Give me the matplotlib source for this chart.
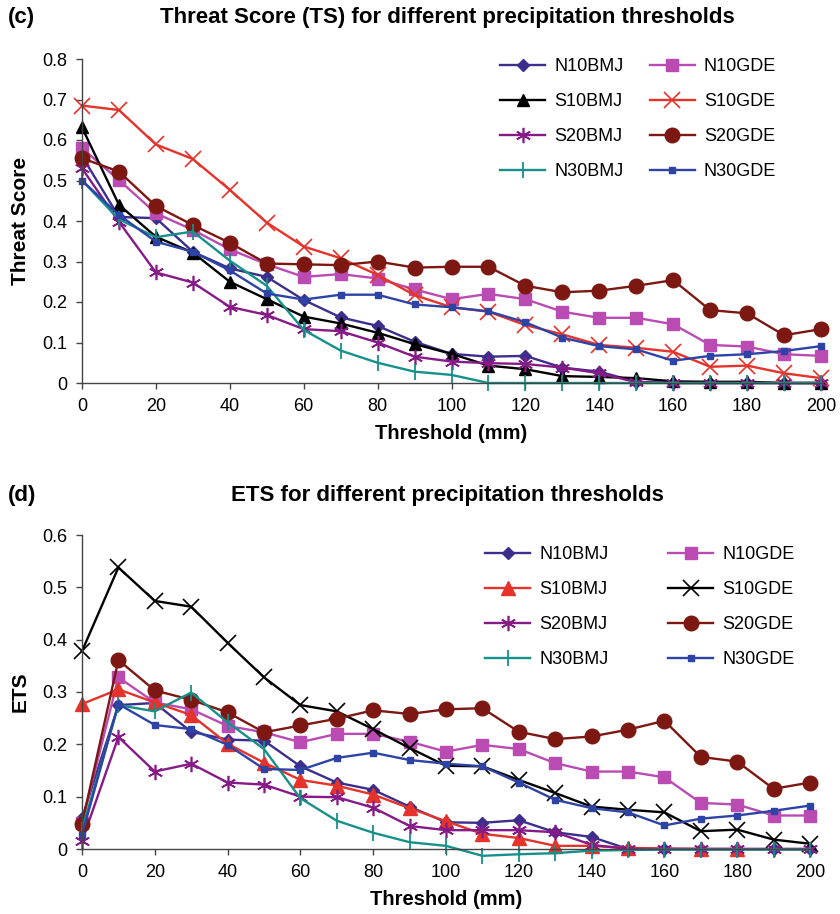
import matplotlib
matplotlib.use('Agg')
import matplotlib.pyplot as plt
import numpy as np

NARROW = ['Liberation Sans Narrow', 'Liberation Sans', 'DejaVu Sans']
plt.rcParams['font.family'] = NARROW

thresholds = [0, 10, 20, 30, 40, 50, 60, 70, 80, 90, 100,
              110, 120, 130, 140, 150, 160, 170, 180, 190, 200]

# (c) threat score
ts_N10BMJ = [0.56, 0.41, 0.407, 0.324, 0.283, 0.262, 0.205, 0.162, 0.141, 0.102, 0.072,
             0.065, 0.067, 0.038, 0.028, 0.003, 0.0, 0.0, 0.0, 0.0, 0.0]
ts_N10GDE = [0.58, 0.501, 0.419, 0.378, 0.33, 0.293, 0.262, 0.269, 0.258, 0.231, 0.207,
             0.22, 0.207, 0.176, 0.161, 0.161, 0.145, 0.094, 0.09, 0.071, 0.067]
ts_S10BMJ = [0.631, 0.44, 0.361, 0.322, 0.25, 0.207, 0.164, 0.147, 0.124, 0.096, 0.072,
             0.043, 0.034, 0.017, 0.015, 0.012, 0.004, 0.003, 0.003, 0.0, 0.0]
ts_S10GDE = [0.685, 0.674, 0.589, 0.553, 0.477, 0.396, 0.337, 0.308, 0.267, 0.217, 0.187,
             0.176, 0.143, 0.12, 0.094, 0.087, 0.077, 0.04, 0.043, 0.024, 0.012]
ts_S20BMJ = [0.53, 0.398, 0.273, 0.248, 0.188, 0.168, 0.133, 0.128, 0.10, 0.065, 0.053,
             0.049, 0.047, 0.038, 0.024, 0.002, 0.0, 0.0, 0.0, 0.0, 0.0]
ts_S20GDE = [0.555, 0.522, 0.437, 0.39, 0.346, 0.295, 0.293, 0.291, 0.30, 0.285, 0.287,
             0.287, 0.24, 0.224, 0.228, 0.24, 0.254, 0.18, 0.172, 0.118, 0.133]
ts_N30BMJ = [0.5, 0.404, 0.36, 0.374, 0.302, 0.24, 0.131, 0.08, 0.05, 0.028, 0.02,
             0.0, 0.0, 0.0, 0.0, 0.0, 0.0, 0.0, 0.0, 0.0, 0.0]
ts_N30GDE = [0.5, 0.415, 0.349, 0.324, 0.278, 0.221, 0.206, 0.218, 0.218, 0.194, 0.187,
             0.177, 0.15, 0.112, 0.091, 0.083, 0.055, 0.067, 0.071, 0.079, 0.091]

# (d) equitable threat score
ets_N10BMJ = [0.059, 0.275, 0.279, 0.224, 0.209, 0.207, 0.158, 0.127, 0.113, 0.081, 0.051,
              0.05, 0.055, 0.032, 0.023, 0.0, 0.0, 0.0, 0.0, 0.0, 0.0]
ets_N10GDE = [0.05, 0.328, 0.28, 0.267, 0.235, 0.223, 0.204, 0.22, 0.22, 0.205, 0.186,
              0.199, 0.191, 0.164, 0.148, 0.148, 0.137, 0.088, 0.085, 0.064, 0.064]
# S10BMJ has no value at 160 and stops at 180
ets_S10BMJ_x = [0, 10, 20, 30, 40, 50, 60, 70, 80, 90, 100, 110, 120, 130, 140, 150, 170, 180]
ets_S10BMJ = [0.277, 0.305, 0.28, 0.256, 0.201, 0.165, 0.132, 0.121, 0.104, 0.078, 0.053,
              0.029, 0.021, 0.006, 0.006, 0.002, 0.0, 0.0]
ets_S10GDE = [0.378, 0.538, 0.474, 0.463, 0.394, 0.328, 0.275, 0.263, 0.229, 0.193, 0.159,
              0.158, 0.132, 0.107, 0.081, 0.075, 0.07, 0.034, 0.037, 0.018, 0.01]
ets_S20BMJ = [0.015, 0.214, 0.148, 0.163, 0.127, 0.123, 0.10, 0.099, 0.079, 0.044, 0.036,
              0.036, 0.036, 0.032, 0.008, 0.0, 0.0, 0.0, 0.0, 0.0, 0.0]
ets_S20GDE = [0.048, 0.361, 0.303, 0.285, 0.261, 0.223, 0.236, 0.249, 0.265, 0.258, 0.267,
              0.269, 0.224, 0.21, 0.215, 0.228, 0.245, 0.176, 0.167, 0.115, 0.127]
ets_N30BMJ = [0.037, 0.275, 0.263, 0.299, 0.242, 0.191, 0.097, 0.054, 0.031, 0.013, 0.006,
              -0.013, -0.01, -0.008, -0.003, -0.002, -0.001, -0.001, -0.001, -0.001, -0.001]
ets_N30GDE = [0.027, 0.277, 0.237, 0.229, 0.199, 0.153, 0.151, 0.174, 0.184, 0.17, 0.163,
              0.158, 0.127, 0.094, 0.078, 0.07, 0.045, 0.058, 0.064, 0.073, 0.083]

ts_ticks = [0, 0.1, 0.2, 0.3, 0.4, 0.5, 0.6, 0.7, 0.8]
ts_tick_labels = ['0', '0.1', '0.2', '0.3', '0.4', '0.5', '0.6', '0.7', '0.8']
ets_ticks = [0, 0.1, 0.2, 0.3, 0.4, 0.5, 0.6]
ets_tick_labels = ['0', '0.1', '0.2', '0.3', '0.4', '0.5', '0.6']
x_ticks = [0, 20, 40, 60, 80, 100, 120, 140, 160, 180, 200]

RED = '#e5322a'
BLACK = '#000000'
styles = {
    'N10BMJ': dict(color='#3b2e8c', marker='D', ms=6.5),
    'N10GDE': dict(color='#b94bb3', marker='s', ms=8.5),
    'S20BMJ': dict(color='#861a86', marker=(6, 2, 0), ms=11, mew=1.2),
    'S20GDE': dict(color='#7c1711', marker='o', ms=10.5),
    'N30BMJ': dict(color='#16908a', marker='|', ms=11, mew=1.3),
    'N30GDE': dict(color='#2d44a6', marker='s', ms=5),
}


def draw_panel(ax, series, ticks, tick_labels, ylabel):
    for name, x, y, st in series:
        ax.plot(x, y, lw=1.7, label=name, clip_on=False, **st)
    ax.set_xlim(0, 200)
    ax.set_ylim(ticks[0], ticks[-1])
    ax.set_xticks(x_ticks)
    ax.set_yticks(ticks, tick_labels)
    ax.spines['top'].set_visible(False)
    ax.spines['right'].set_visible(False)
    for s in ['left', 'bottom']:
        ax.spines[s].set_color('#444444')
        ax.spines[s].set_linewidth(1.0)
    ax.tick_params(direction='out', length=4.5, width=1, colors='#444444',
                   labelcolor='black', labelsize=13, pad=6)
    ax.set_xlabel('Threshold (mm)', fontsize=14.5, fontweight='bold', labelpad=7)
    ax.set_ylabel(ylabel, fontsize=15, fontweight='bold', labelpad=9)


fig = plt.figure(figsize=(8.4, 9.14), dpi=100)

# panel (c)
ax1 = fig.add_axes([82 / 840, 1 - 383 / 914, (821 - 82) / 840, (383 - 59) / 914])
series_c = [
    ('N10BMJ', thresholds, ts_N10BMJ, styles['N10BMJ']),
    ('N10GDE', thresholds, ts_N10GDE, styles['N10GDE']),
    ('S10BMJ', thresholds, ts_S10BMJ, dict(color=BLACK, marker='^', ms=8.5)),
    ('S10GDE', thresholds, ts_S10GDE, dict(color=RED, marker='x', ms=11, mew=1.2)),
    ('S20BMJ', thresholds, ts_S20BMJ, styles['S20BMJ']),
    ('S20GDE', thresholds, ts_S20GDE, styles['S20GDE']),
    ('N30BMJ', thresholds, ts_N30BMJ, styles['N30BMJ']),
    ('N30GDE', thresholds, ts_N30GDE, styles['N30GDE']),
]
draw_panel(ax1, series_c, ts_ticks, ts_tick_labels, 'Threat Score')

# panel (d)
ax2 = fig.add_axes([82 / 840, 1 - 849 / 914, (810 - 82) / 840, (849 - 535) / 914])
series_d = [
    ('N10BMJ', thresholds, ets_N10BMJ, styles['N10BMJ']),
    ('N10GDE', thresholds, ets_N10GDE, styles['N10GDE']),
    ('S10BMJ', ets_S10BMJ_x, ets_S10BMJ, dict(color=RED, marker='^', ms=10)),
    ('S10GDE', thresholds, ets_S10GDE, dict(color=BLACK, marker='x', ms=11, mew=1.2)),
    ('S20BMJ', thresholds, ets_S20BMJ, styles['S20BMJ']),
    ('S20GDE', thresholds, ets_S20GDE, styles['S20GDE']),
    ('N30BMJ', thresholds, ets_N30BMJ, styles['N30BMJ']),
    ('N30GDE', thresholds, ets_N30GDE, styles['N30GDE']),
]
draw_panel(ax2, series_d, ets_ticks, ets_tick_labels, 'ETS')


def add_legend(ax, x0, y0, colsp):
    h, l = ax.get_legend_handles_labels()
    # legend fills column-wise, reference reads row-wise
    order = [0, 2, 4, 6, 1, 3, 5, 7]
    ax.legend([h[i] for i in order], [l[i] for i in order], ncol=2, frameon=False,
              loc='upper left', bbox_to_anchor=(x0 / 840, 1 - y0 / 914),
              bbox_transform=fig.transFigure, borderpad=0, borderaxespad=0,
              handlelength=2.5, handletextpad=0.5, columnspacing=colsp,
              labelspacing=1.0, prop={'family': ['Liberation Sans', 'DejaVu Sans'], 'size': 13})


add_legend(ax1, 500, 58, 1.45)
add_legend(ax2, 485, 546, 3.3)

for lab, title, y in [('(c)', 'Threat Score (TS) for different precipitation thresholds', 17),
                      ('(d)', 'ETS for different precipitation thresholds', 496)]:
    fig.text(8 / 840, 1 - y / 914, lab, fontsize=16, fontweight='bold', va='center', ha='left')
    fig.text(447 / 840, 1 - y / 914, title, fontsize=16, fontweight='bold', va='center', ha='center')

plt.savefig('out.png', dpi=100)
